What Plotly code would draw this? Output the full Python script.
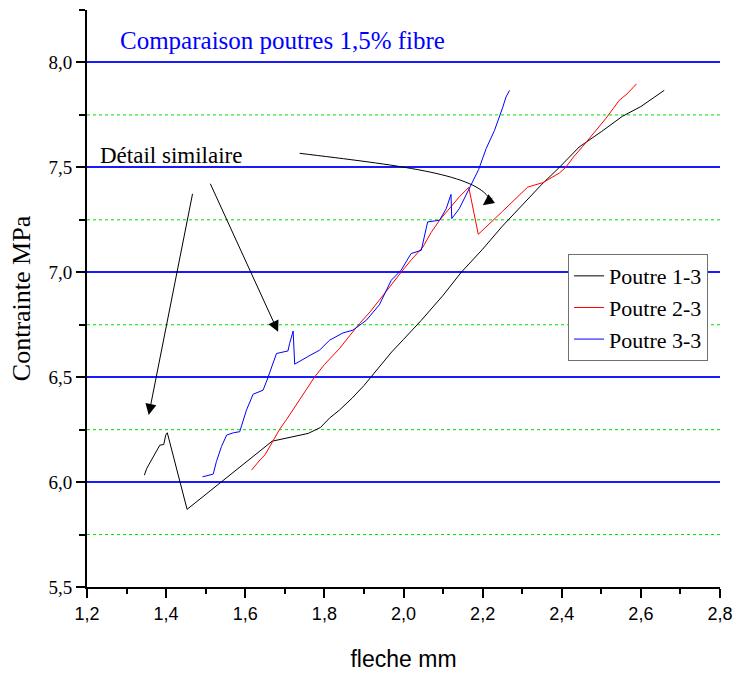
import plotly.graph_objects as go

# ---- data ----
p1_x = [1.345, 1.351, 1.359, 1.367, 1.378, 1.384, 1.394, 1.399, 1.403, 1.453,
        1.668, 1.720, 1.759, 1.790, 1.813, 1.838, 1.870, 1.900, 1.939, 1.970,
        2.000, 2.045, 2.100, 2.146, 2.200, 2.250, 2.300, 2.350, 2.394, 2.444,
        2.500, 2.553, 2.600, 2.659]
p1_y = [6.033, 6.065, 6.092, 6.120, 6.160, 6.176, 6.179, 6.224, 6.235, 5.870,
        6.195, 6.215, 6.232, 6.260, 6.305, 6.343, 6.400, 6.460, 6.549, 6.620,
        6.680, 6.771, 6.890, 7.000, 7.110, 7.220, 7.320, 7.420, 7.500, 7.597,
        7.670, 7.743, 7.790, 7.867]

p2_x = [1.616, 1.625, 1.637, 1.650, 1.666, 1.687, 1.705, 1.720, 1.745, 1.775,
        1.800, 1.838, 1.865, 1.889, 1.915, 1.939, 1.965, 1.994, 2.020, 2.049,
        2.070, 2.091, 2.115, 2.141, 2.165, 2.189, 2.250, 2.314, 2.352, 2.394,
        2.410, 2.430, 2.453, 2.480, 2.511, 2.530, 2.545, 2.565, 2.589]
p2_y = [6.057, 6.080, 6.105, 6.130, 6.184, 6.252, 6.300, 6.343, 6.420, 6.500,
        6.560, 6.636, 6.700, 6.756, 6.810, 6.865, 6.930, 7.000, 7.060, 7.120,
        7.190, 7.248, 7.300, 7.359, 7.405, 7.181, 7.290, 7.406, 7.427, 7.473,
        7.500, 7.550, 7.600, 7.660, 7.732, 7.780, 7.819, 7.850, 7.898]

p3_x = [1.492, 1.505, 1.519, 1.527, 1.540, 1.553, 1.570, 1.586, 1.603, 1.620,
        1.645, 1.655, 1.668, 1.679, 1.708, 1.712, 1.721, 1.725, 1.760, 1.788,
        1.813, 1.847, 1.872, 1.906, 1.939, 1.969, 1.994, 2.019, 2.045, 2.061,
        2.091, 2.108, 2.120, 2.122, 2.141, 2.167, 2.190, 2.209, 2.230, 2.251,
        2.259, 2.268]
p3_y = [6.025, 6.030, 6.038, 6.097, 6.170, 6.224, 6.235, 6.240, 6.343, 6.419,
        6.438, 6.486, 6.560, 6.613, 6.625, 6.660, 6.720, 6.562, 6.600, 6.629,
        6.676, 6.711, 6.724, 6.771, 6.845, 6.962, 7.010, 7.089, 7.105, 7.240,
        7.248, 7.303, 7.371, 7.256, 7.303, 7.399, 7.490, 7.590, 7.676, 7.787,
        7.835, 7.867]

series_names = ["Poutre 1-3", "Poutre 2-3", "Poutre 3-3"]
series_colors = ["#000000", "#ff0000", "#0000ff"]

x_tickvals = [1.2, 1.4, 1.6, 1.8, 2.0, 2.2, 2.4, 2.6, 2.8]
x_ticktext = ["1,2", "1,4", "1,6", "1,8", "2,0", "2,2", "2,4", "2,6", "2,8"]
y_tickvals = [5.5, 6.0, 6.5, 7.0, 7.5, 8.0]
y_ticktext = ["5,5", "6,0", "6,5", "7,0", "7,5", "8,0"]
minor_grid_y = [5.75, 6.25, 6.75, 7.25, 7.75]

SERIF = "Liberation Serif"
SANS = "Liberation Sans"

fig = go.Figure()
for xs, ys, name, col in zip([p1_x, p2_x, p3_x], [p1_y, p2_y, p3_y], series_names, series_colors):
    fig.add_trace(go.Scatter(x=xs, y=ys, mode="lines", name=name,
                             line=dict(color=col, width=1)))

# dotted green minor grid lines
for yv in minor_grid_y:
    fig.add_shape(type="line", xref="paper", yref="y", x0=0, x1=1, y0=yv, y1=yv,
                  line=dict(color="#00e000", width=1, dash="dot"), layer="below")

# curved arrow toward the red drop
fig.add_shape(type="path", xref="x", yref="y",
              path="M 1.7375,7.567 C 1.985,7.51 2.17,7.47 2.214,7.36",
              line=dict(color="black", width=1))

annotations = [
    dict(x=1.278, y=8.105, xref="x", yref="y", text="Comparaison poutres 1,5% fibre",
         showarrow=False, xanchor="left", yanchor="middle",
         font=dict(family=SERIF, size=25, color="#0000ff")),
    dict(x=1.228, y=7.555, xref="x", yref="y", text="Détail similaire",
         showarrow=False, xanchor="left", yanchor="middle",
         font=dict(family=SERIF, size=23, color="black")),
    dict(x=1.356, y=6.32, xref="x", yref="y", ax=1.4675, ay=7.381, axref="x", ayref="y",
         showarrow=True, arrowhead=2, arrowsize=2.2, arrowwidth=1, arrowcolor="black", text=""),
    dict(x=1.683, y=6.716, xref="x", yref="y", ax=1.510, ay=7.429, axref="x", ayref="y",
         showarrow=True, arrowhead=2, arrowsize=2.2, arrowwidth=1, arrowcolor="black", text=""),
    dict(x=2.2005, y=7.32, xref="x", yref="y", ax=11, ay=-8,
         showarrow=True, arrowhead=2, arrowsize=2.2, arrowwidth=1, arrowcolor="black", text=""),
]

fig.update_layout(
    width=736, height=674,
    margin=dict(l=87, r=16, t=10, b=87, autoexpand=False),
    paper_bgcolor="white", plot_bgcolor="white",
    showlegend=True,
    legend=dict(x=0.76, y=0.577, xanchor="left", yanchor="top",
                font=dict(family=SERIF, size=22, color="black"),
                bgcolor="white", bordercolor="#707070", borderwidth=1,
                tracegroupgap=0),
    annotations=annotations,
    xaxis=dict(range=[1.2, 2.8], tickvals=x_tickvals, ticktext=x_ticktext, automargin=False,
               showgrid=False, zeroline=False, showline=True, linecolor="black", linewidth=2,
               ticks="outside", ticklen=9, tickwidth=2, tickcolor="black",
               minor=dict(dtick=0.1, ticks="outside", ticklen=5, tickwidth=2, tickcolor="black",
                          showgrid=False),
               tickfont=dict(family=SANS, size=18, color="black"),
               title=dict(text="fleche mm", font=dict(family=SANS, size=23, color="black"),
                          standoff=28)),
    yaxis=dict(range=[5.5, 8.25], tickvals=y_tickvals, ticktext=y_ticktext, automargin=False,
               showgrid=True, gridcolor="#1a1aff", gridwidth=1.5,
               zeroline=False, showline=True, linecolor="black", linewidth=2,
               ticks="outside", ticklen=9, tickwidth=2, tickcolor="black",
               minor=dict(tickvals=[5.75, 6.25, 6.75, 7.25, 7.75, 8.25], ticks="outside",
                          ticklen=6, tickwidth=2, tickcolor="black", showgrid=False),
               tickfont=dict(family=SERIF, size=19, color="black"),
               title=dict(text="Contrainte MPa", font=dict(family=SERIF, size=26, color="black"),
                          standoff=10)),
)

fig.write_html("out.html")
